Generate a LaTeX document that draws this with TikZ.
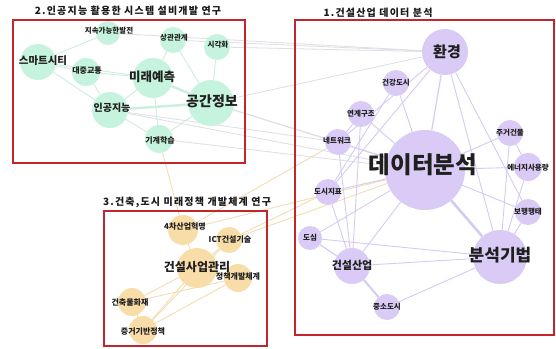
\documentclass[tikz,border=0pt]{standalone}
\usepackage{fontspec}
\setmainfont{Noto Sans CJK KR}
\usetikzlibrary{backgrounds}
\definecolor{gfill}{HTML}{C6F3DD}
\definecolor{pfill}{HTML}{DACBF6}
\definecolor{ofill}{HTML}{F9DDA8}
\definecolor{gedge}{HTML}{CDEDDE}
\definecolor{pedge}{HTML}{D5CBF1}
\definecolor{oedge}{HTML}{F4DCB4}
\definecolor{xedge}{HTML}{DFDDE6}
\definecolor{boxred}{HTML}{C0262C}
\newcommand\fsz[1]{\fontsize{#1}{#1}\selectfont\bfseries}
\tikzset{
  gb/.style={circle, fill=gfill, draw=none, inner sep=0pt, minimum size=#1},
  pb/.style={circle, fill=pfill, draw=none, inner sep=0pt, minimum size=#1},
  ob/.style={circle, fill=ofill, draw=none, inner sep=0pt, minimum size=#1},
  lbl/.style={inner sep=0pt, text=black!88, font=\fsz{#1}},
  ttl/.style={inner sep=0pt, text=black!90, font=\fsz{10}\addfontfeature{LetterSpace=12}},
  ge/.style={draw=gedge, line width=0.9pt},
  pe/.style={draw=pedge, line width=0.9pt},
  oe/.style={draw=oedge, line width=0.9pt},
  xe/.style={draw=xedge, line width=0.8pt},
  frame/.style={draw=boxred, line width=1.2pt}
}
\begin{document}
\begin{tikzpicture}[x=1pt, y=-1pt]
\useasboundingbox (0,0) rectangle (556,348);

% ---------- green bubbles ----------
\node[gb=36pt] (smart) at (38,62) {};
\node[gb=24pt] (sustain) at (108,33) {};
\node[gb=26pt] (corr) at (173,40) {};
\node[gb=26pt] (visual) at (217,47) {};
\node[gb=28pt] (transit) at (86,72) {};
\node[gb=40pt] (future) at (153,78) {};
\node[gb=46pt] (spatial) at (211,103) {};
\node[gb=36pt] (ai) at (110,110) {};
\node[gb=28pt] (ml) at (159,139) {};

% ---------- purple bubbles ----------
\node[pb=46pt] (env) at (445,52) {};
\node[pb=26pt] (health) at (396,83) {};
\node[pb=26pt] (link) at (361,114) {};
\node[pb=26pt] (network) at (338,142) {};
\node[pb=80pt] (data) at (425,170) {};
\node[pb=26pt] (housing) at (510,133) {};
\node[pb=28pt] (energy) at (528,167) {};
\node[pb=26pt] (walk) at (528,212) {};
\node[pb=26pt] (urbanidx) at (328,192) {};
\node[pb=24pt] (downtown) at (310,238) {};
\node[pb=54pt] (method) at (500,257) {};
\node[pb=36pt] (constr) at (352,266) {};
\node[pb=26pt] (smallcity) at (387,307) {};

% ---------- orange bubbles ----------
\node[ob=30pt] (ind4) at (183,230) {};
\node[ob=26pt] (ict) at (229,240) {};
\node[ob=40pt] (cm) at (197,268) {};
\node[ob=28pt] (policy) at (238,278) {};
\node[ob=28pt] (fire) at (132,302) {};
\node[ob=28pt] (evidence) at (143,330) {};

% ---------- connectors ----------
\begin{scope}[on background layer]
  \fill[white] (0,0) rectangle (556,348);
  % green
  \draw[ge] (smart) -- (sustain);
  \draw[ge] (smart) -- (transit);
  \draw[ge] (smart) -- (ai);
  \draw[ge] (smart) -- (future);
  \draw[ge] (transit) -- (future);
  \draw[ge] (transit) -- (ai);
  \draw[ge, line width=2.4pt] (future) -- (spatial);
  \draw[ge] (future) -- (corr);
  \draw[ge] (future) -- (ai);
  \draw[ge] (future) -- (ml);
  \draw[ge, line width=2.4pt] (ai) -- (spatial);
  \draw[ge] (ai) -- (ml);
  \draw[ge] (spatial) -- (corr);
  \draw[ge] (spatial) -- (visual);
  \draw[ge] (spatial) -- (ml);
  % cross
  \draw[xe] (sustain) -- (env);
  \draw[xe] (corr) -- (env);
  \draw[xe] (visual) -- (env);
  \draw[xe] (spatial) -- (env);
  \draw[xe] (spatial) -- (data);
  \draw[xe] (spatial) -- (network);
  \draw[xe] (ai) -- (data);
  \draw[xe] (ai) -- (network);
  \draw[xe] (ml) -- (data);
  \draw[oe] (ml) -- (ind4);
  \draw[oe] (ind4) -- (data);
  \draw[oe] (ind4) -- (network);
  \draw[oe] (ict) -- (data);
  \draw[oe] (ict) -- (urbanidx);
  % purple
  \draw[pe, line width=1.2pt] (env) -- (data);
  \draw[pe] (env) -- (network);
  \draw[pe] (env) -- (urbanidx);
  \draw[pe] (env) -- (method);
  \draw[pe] (env) -- (walk);
  \draw[pe] (health) -- (data);
  \draw[pe] (health) -- (urbanidx);
  \draw[pe] (link) -- (data);
  \draw[pe] (link) -- (network);
  \draw[pe] (link) -- (constr);
  \draw[pe] (network) -- (data);
  \draw[pe] (network) -- (constr);
  \draw[pe] (data) -- (housing);
  \draw[pe] (data) -- (energy);
  \draw[pe] (data) -- (walk);
  \draw[pe, line width=2.6pt] (data) -- (method);
  \draw[pe] (data) -- (constr);
  \draw[pe] (data) -- (urbanidx);
  \draw[pe] (data) -- (downtown);
  \draw[pe] (housing) -- (method);
  \draw[pe] (housing) -- (energy);
  \draw[pe] (energy) -- (method);
  \draw[pe] (walk) -- (method);
  \draw[pe] (downtown) -- (method);
  \draw[pe, line width=1.2pt] (downtown) -- (constr);
  \draw[pe] (constr) -- (method);
  \draw[pe, line width=2pt] (constr) -- (smallcity);
  \draw[pe] (smallcity) -- (method);
  \draw[pe] (urbanidx) -- (constr);
  % orange
  \draw[oe] (ind4) -- (cm);
  \draw[oe] (ict) -- (cm);
  \draw[oe] (cm) -- (policy);
  \draw[oe] (cm) -- (fire);
  \draw[oe] (cm) -- (evidence);
  \draw[oe] (fire) -- (evidence);
  \draw[oe] (fire) -- (policy);
  \draw[oe] (evidence) -- (policy);
  \draw[oe] (evidence) -- (ict);
\end{scope}

% ---------- labels ----------
\node[lbl=10.5] (t-smart) at (43,61) {스마트시티};
\node[lbl=7.5] (t-sustain) at (109,31) {지속가능한발전};
\node[lbl=7.5] (t-corr) at (174,38) {상관관계};
\node[lbl=7.5] (t-visual) at (218,45) {시각화};
\node[lbl=8] (t-transit) at (87,71) {대중교통};
\node[lbl=12.5] (t-future) at (152,77) {미래예측};
\node[lbl=14] (t-spatial) at (212,101) {공간정보};
\node[lbl=10] (t-ai) at (112,108) {인공지능};
\node[lbl=8] (t-ml) at (160,140) {기계학습};

\node[lbl=15] (t-env) at (447,52) {환경};
\node[lbl=7.5] (t-health) at (396,83) {건강도시};
\node[lbl=7.5] (t-link) at (361,114) {연계구조};
\node[lbl=7.5] (t-network) at (337,141) {네트워크};
\node[lbl=23.5] (t-data) at (423,165) {데이터분석};
\node[lbl=7.5] (t-housing) at (510,133) {주거건물};
\node[lbl=7.5] (t-energy) at (528,168) {에너지사용량};
\node[lbl=7.5] (t-walk) at (528,212) {보행행태};
\node[lbl=7.5] (t-urbanidx) at (328,192) {도시지표};
\node[lbl=7.5] (t-downtown) at (310,238) {도심};
\node[lbl=17] (t-method) at (500,255) {분석기법};
\node[lbl=11] (t-constr) at (352,265) {건설산업};
\node[lbl=7.5] (t-smallcity) at (387,307) {중소도시};

\node[lbl=8] (t-ind4) at (185,226) {4차산업혁명};
\node[lbl=8] (t-ict) at (230,239) {ICT건설기술};
\node[lbl=12] (t-cm) at (197,267) {건설사업관리};
\node[lbl=8] (t-policy) at (238,277) {정책개발체계};
\node[lbl=8] (t-fire) at (130,302) {건축물화재};
\node[lbl=8] (t-evidence) at (143,332) {증거기반정책};

% ---------- frames and titles ----------
\draw[frame] (13,20) rectangle (245,163);
\draw[frame] (295,20) rectangle (554,335);
\draw[frame] (104,211) rectangle (267,346);
\node[ttl] (title2) at (128,11) {2.인공지능 활용한 시스템 설비개발 연구};
\node[ttl] (title1) at (378,13) {1.건설산업 데이터 분석};
\node[ttl] (title3) at (187,202) {3.건축,도시 미래정책 개발체계 연구};
\end{tikzpicture}
\end{document}
